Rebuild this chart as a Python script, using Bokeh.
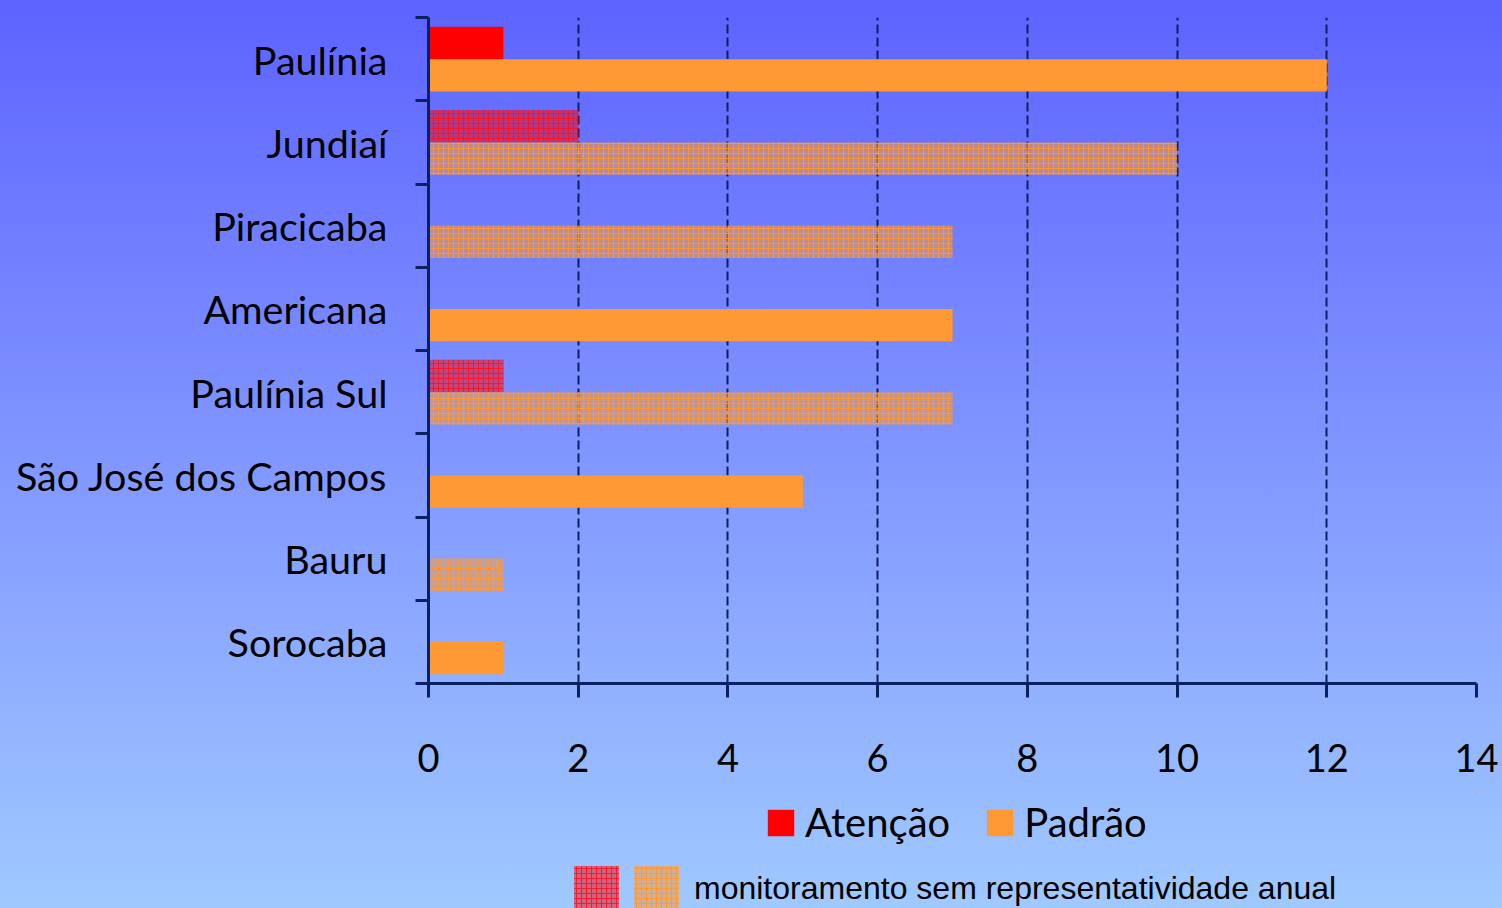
from bokeh.plotting import figure
from bokeh.layouts import column
from bokeh.models import (Range1d, LinearAxis, FixedTicker,
                          ColumnDataSource, Legend, LegendItem)
from bokeh.transform import dodge
from bokeh.embed import file_html
from bokeh.resources import INLINE

# ---- data -----------------------------------------------------------------
categories = ["Paulínia", "Jundiaí", "Piracicaba", "Americana", "Paulínia Sul",
              "São José dos Campos", "Bauru", "Sorocaba"]
atencao = [1, 2, 0, 0, 1, 0, 0, 0]
padrao = [12, 10, 7, 7, 7, 5, 1, 1]
sem_representatividade = [False, True, True, False, True, False, True, False]
x_ticks = [0, 2, 4, 6, 8, 10, 12, 14]
series_names = ["Atenção", "Padrão"]
note_text = "monitoramento sem representatividade anual"

NAVY = "#0a2160"
RED = "#ff0000"
ORANGE = "#ff9933"
CAL = "Lato"
GRAD = "linear-gradient(180deg, #5d63ff 0%, #7a8cff 40%, #a0c9ff 100%)"

n = len(categories)
# category slot centre on the vertical axis (first category on top)
slot = {c: n - 0.5 - i for i, c in enumerate(categories)}


def subset(values, hatched):
    ys, vals = [], []
    for c, v, h in zip(categories, values, sem_representatividade):
        if h == hatched and v > 0:
            ys.append(slot[c])
            vals.append(v)
    return ColumnDataSource(dict(y=ys, val=vals))


src_att = subset(atencao, False)
src_pad = subset(padrao, False)
src_att_h = subset(atencao, True)
src_pad_h = subset(padrao, True)

p = figure(width=1502, height=792, output_backend="svg", toolbar_location=None,
           y_range=Range1d(0, n), x_range=Range1d(x_ticks[0], x_ticks[-1]),
           y_axis_location=None,
           min_border_left=428, min_border_right=26, min_border_top=17, min_border_bottom=109)
p.background_fill_alpha = 0
p.border_fill_alpha = 0
p.outline_line_color = None

# grid
p.xgrid.ticker = FixedTicker(ticks=x_ticks)
p.xgrid.grid_line_color = NAVY
p.xgrid.grid_line_width = 2
p.xgrid.grid_line_dash = "9 4"
p.ygrid.grid_line_color = None

# x axis
xa = p.xaxis[0]
xa.ticker = FixedTicker(ticks=x_ticks)
xa.axis_line_color = NAVY
xa.axis_line_width = 3
xa.major_tick_line_color = NAVY
xa.major_tick_line_width = 3
xa.major_tick_out = 14
xa.major_tick_in = 0
xa.minor_tick_line_color = None
xa.major_label_text_font = CAL
xa.major_label_text_font_size = "38px"
xa.major_label_text_color = "black"
xa.major_label_standoff = 46

# y boundary ticks axis (closest to frame)
bounds = list(range(n + 1))
ya = LinearAxis(ticker=FixedTicker(ticks=bounds),
                major_label_overrides={b: "" for b in bounds})
ya.axis_line_color = NAVY
ya.axis_line_width = 3
ya.major_tick_line_color = NAVY
ya.major_tick_line_width = 3
ya.major_tick_out = 13
ya.major_tick_in = 0
ya.minor_tick_line_color = None
ya.major_label_standoff = 0
p.add_layout(ya, "left")

# category labels axis
ca = LinearAxis(ticker=FixedTicker(ticks=[slot[c] for c in categories]),
                major_label_overrides={slot[c]: c for c in categories})
ca.axis_line_color = None
ca.major_tick_line_color = None
ca.minor_tick_line_color = None
ca.major_tick_out = 0
ca.major_tick_in = 0
ca.major_label_standoff = 28
ca.major_label_text_font = CAL
ca.major_label_text_font_size = "39.5px"
ca.major_label_text_color = "black"
p.add_layout(ca, "left")

OFF = 0.195
H = 0.39
solid_att = dict(fill_color=RED, line_color=None)
solid_pad = dict(fill_color=ORANGE, line_color=None)
hatch_att = dict(fill_color=RED, fill_alpha=0.5, line_color=None, hatch_pattern="+",
                 hatch_color="#ff1020", hatch_alpha=0.85, hatch_scale=5, hatch_weight=1)
hatch_pad = dict(fill_color=ORANGE, fill_alpha=0.55, line_color=None, hatch_pattern="+",
                 hatch_color="#ff9933", hatch_alpha=0.85, hatch_scale=5, hatch_weight=1)

p.hbar(y=dodge("y", OFF), left=0, right="val", height=H, source=src_att, **solid_att)
p.hbar(y=dodge("y", -OFF), left=0, right="val", height=H, source=src_pad, **solid_pad)
p.hbar(y=dodge("y", OFF), left=0, right="val", height=H, source=src_att_h, **hatch_att)
p.hbar(y=dodge("y", -OFF), left=0, right="val", height=H, source=src_pad_h, **hatch_pad)

# ---- legend strip below the chart ------------------------------------------
# same series, viewed through an empty window far from the data so only the keys show
q = figure(width=1502, height=116, output_backend="svg", toolbar_location=None,
           x_range=Range1d(-1000, -999), y_range=Range1d(-1000, -999),
           x_axis_location=None, y_axis_location=None,
           min_border_left=428, min_border_right=26, min_border_top=0, min_border_bottom=0)
q.background_fill_alpha = 0
q.border_fill_alpha = 0
q.outline_line_color = None
q.grid.visible = False
q.grid.grid_line_color = None


def key(src, style):
    return q.hbar(y="y", left=0, right="val", height=H, source=src, **style)


k_att = key(src_att, solid_att)
k_pad = key(src_pad, solid_pad)
k_att_h = key(src_att_h, hatch_att)
k_pad_h = key(src_pad_h, hatch_pad)

common = dict(orientation="horizontal", background_fill_alpha=0, border_line_color=None,
              padding=0, margin=0, label_text_color="black")

leg1 = Legend(items=[LegendItem(label=series_names[0], renderers=[k_att]),
                     LegendItem(label=series_names[1], renderers=[k_pad])],
              location=(336, 62),
              glyph_width=33, glyph_height=33, label_standoff=8, spacing=33,
              label_text_font=CAL, label_text_font_size="40px", **common)
q.add_layout(leg1)

leg2a = Legend(items=[LegendItem(label="", renderers=[k_att_h])],
               location=(140, -8), glyph_width=56, glyph_height=56, label_standoff=10,
               label_text_font="Liberation Sans", label_text_font_size="32px", **common)
q.add_layout(leg2a)

leg2b = Legend(items=[LegendItem(label=note_text, renderers=[k_pad_h])],
               location=(200, -8), glyph_width=56, glyph_height=56, label_standoff=10,
               label_text_font="Liberation Sans", label_text_font_size="32px", **common)
q.add_layout(leg2b)

page = column(p, q, spacing=0)
page.styles = {"background": GRAD}

html = file_html(page, INLINE)
html = html.replace("</head>",
                    "<style>html,body{margin:0 !important;padding:0 !important;overflow:hidden;"
                    "background:#a0c9ff;}</style></head>", 1)
open("out.html", "w").write(html)
